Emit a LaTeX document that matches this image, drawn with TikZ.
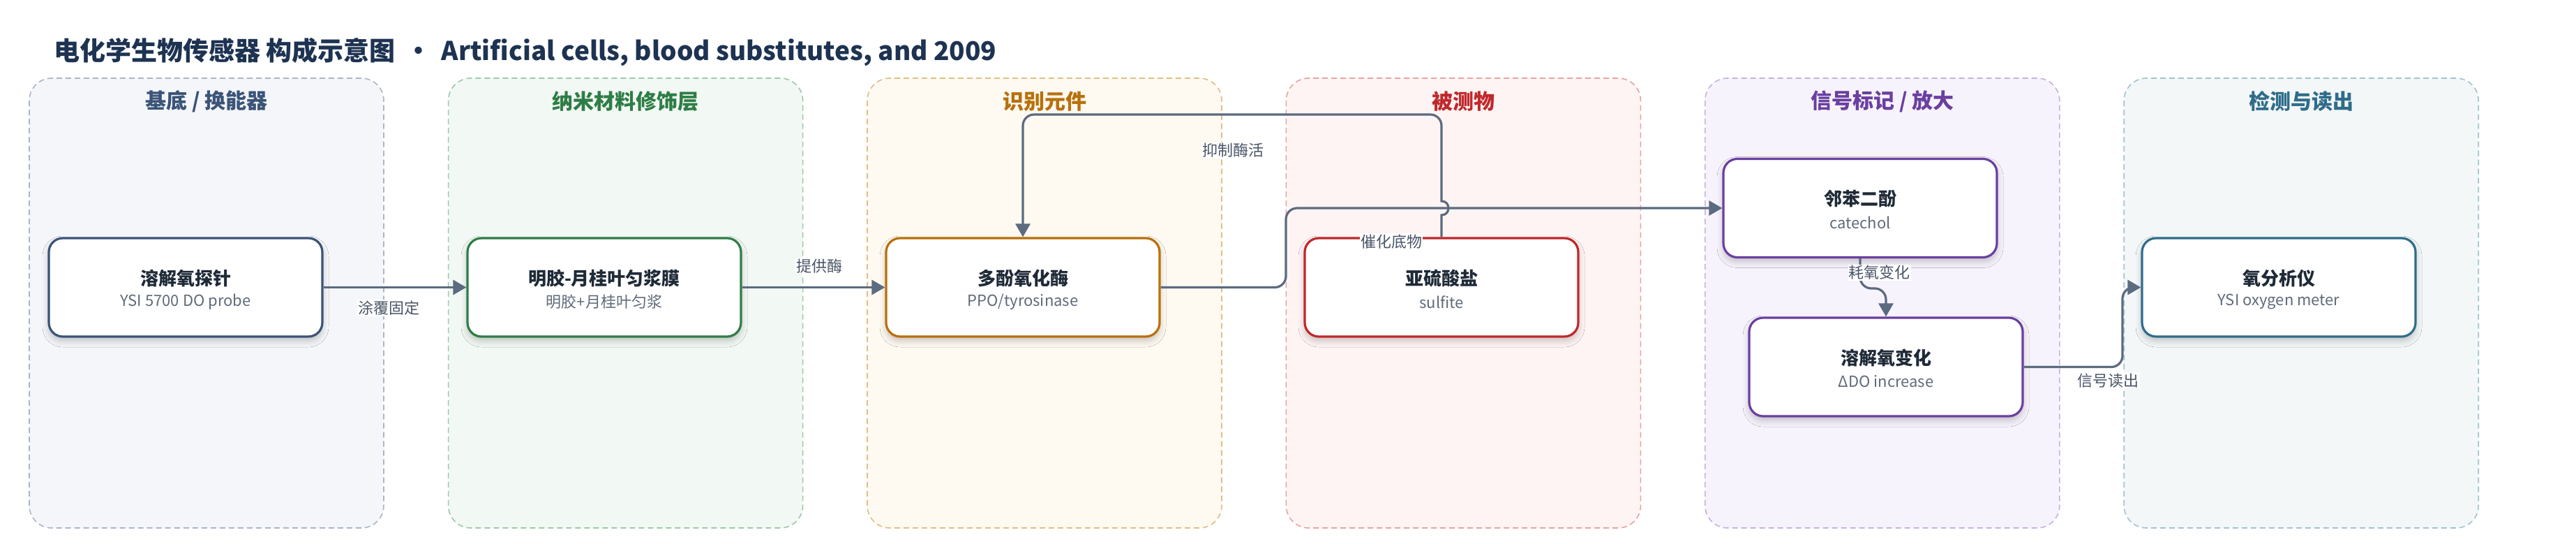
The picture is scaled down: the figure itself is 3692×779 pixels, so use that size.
\documentclass[tikz,border=0pt]{standalone}
\usepackage{fontspec}
\setmainfont{Noto Sans CJK SC}
\usetikzlibrary{arrows.meta,shadows.blur}
\definecolor{edgec}{HTML}{5B6B80}
\definecolor{lblc}{HTML}{4A5568}
\definecolor{ttlc}{HTML}{1F2A37}
\definecolor{subc}{HTML}{5F6B7A}
\definecolor{headc}{HTML}{1E3352}
% panel fills / borders / accents
\definecolor{fA}{HTML}{F4F6FA}\definecolor{bA}{HTML}{A9B6C8}\definecolor{cA}{HTML}{3B5478}
\definecolor{fB}{HTML}{F2F8F4}\definecolor{bB}{HTML}{9CCAA8}\definecolor{cB}{HTML}{2E7D46}
\definecolor{fC}{HTML}{FEF9F1}\definecolor{bC}{HTML}{E2BE85}\definecolor{cC}{HTML}{B8700A}
\definecolor{fD}{HTML}{FEF4F3}\definecolor{bD}{HTML}{E6A3A3}\definecolor{cD}{HTML}{C0282B}
\definecolor{fE}{HTML}{F7F3FC}\definecolor{bE}{HTML}{C6B1E2}\definecolor{cE}{HTML}{6A3FA0}
\definecolor{fF}{HTML}{F3F7F8}\definecolor{bF}{HTML}{A2C3CE}\definecolor{cF}{HTML}{2F6C8A}
\begin{document}
\begin{tikzpicture}[x=1pt,y=-1pt,
  panelbox/.style 2 args={draw=#1, fill=#2, dash pattern=on 8pt off 5pt, line width=1.6pt, rounded corners=32pt},
  panelhead/.style={font=\bfseries\fontsize{30}{36}\selectfont, text=#1, inner sep=0pt},
  nbox/.style={draw=#1, fill=white, line width=3.2pt, rounded corners=20pt, minimum width=392pt, minimum height=141pt, inner sep=0pt,
     blur shadow={shadow xshift=0pt, shadow yshift=-6pt, shadow blur radius=9pt, shadow opacity=22}},
  ntitle/.style={font=\bfseries\fontsize{26}{30}\selectfont, text=ttlc, inner sep=0pt},
  nsub/.style={font=\fontsize{22}{26}\selectfont, text=subc, inner sep=0pt},
  edge/.style={draw=edgec, line width=3.2pt, -{Triangle[length=19pt,width=21pt]}},
  elabel/.style={font=\fontsize{22}{26}\selectfont, text=lblc, fill=white, inner xsep=1pt, inner ysep=1.5pt}
]
\useasboundingbox (0,0) rectangle (3692,779);
\fill[white] (0,0) rectangle (3692,779);

% title
\node[anchor=west, inner sep=0pt, font=\bfseries\fontsize{37}{44}\selectfont, text=headc] (title) at (77,75)
  {电化学生物传感器 构成示意图 \,·\, Artificial cells, blood substitutes, and 2009};

% panels
\draw[panelbox={bA}{fA}] (42,112) rectangle (550,756);
\draw[panelbox={bB}{fB}] (642.6,112) rectangle (1150.6,756);
\draw[panelbox={bC}{fC}] (1243,112) rectangle (1751,756);
\draw[panelbox={bD}{fD}] (1843.4,112) rectangle (2351.4,756);
\draw[panelbox={bE}{fE}] (2443.8,112) rectangle (2951.8,756);
\draw[panelbox={bF}{fF}] (3044.2,112) rectangle (3552.2,756);

\node[panelhead=cA] (hA) at (296,145.5) {基底 / 换能器};
\node[panelhead=cB] (hB) at (896.6,145.5) {纳米材料修饰层};
\node[panelhead=cC] (hC) at (1497,145.5) {识别元件};
\node[panelhead=cD] (hD) at (2097.4,145.5) {被测物};
\node[panelhead=cE] (hE) at (2697.8,145.5) {信号标记 / 放大};
\node[panelhead=cF] (hF) at (3298.2,145.5) {检测与读出};

% nodes
\node[nbox=cA] (probe) at (266,411.5) {};
\node[ntitle] (probeT) at ([yshift=13pt]probe.center) {溶解氧探针};
\node[nsub] (probeS) at ([yshift=-21pt]probe.center) {YSI 5700 DO probe};

\node[nbox=cB] (gel) at (866,411.5) {};
\node[ntitle] (gelT) at ([yshift=13pt]gel.center) {明胶-月桂叶匀浆膜};
\node[nsub] (gelS) at ([yshift=-21pt]gel.center) {明胶+月桂叶匀浆};

\node[nbox=cC] (ppo) at (1466,411.5) {};
\node[ntitle] (ppoT) at ([yshift=13pt]ppo.center) {多酚氧化酶};
\node[nsub] (ppoS) at ([yshift=-21pt]ppo.center) {PPO/tyrosinase};

\node[nbox=cD] (sulfite) at (2066,411.5) {};
\node[ntitle] (sulT) at ([yshift=13pt]sulfite.center) {亚硫酸盐};
\node[nsub] (sulS) at ([yshift=-21pt]sulfite.center) {sulfite};

\node[nbox=cE] (catechol) at (2666,298) {};
\node[ntitle] (catT) at ([yshift=13pt]catechol.center) {邻苯二酚};
\node[nsub] (catS) at ([yshift=-21pt]catechol.center) {catechol};

\node[nbox=cE] (dochg) at (2703,525.5) {};
\node[ntitle] (doT) at ([yshift=13pt]dochg.center) {溶解氧变化};
\node[nsub] (doS) at ([yshift=-21pt]dochg.center) {ΔDO increase};

\node[nbox=cF] (meter) at (3266,411.5) {};
\node[ntitle] (meterT) at ([yshift=13pt]meter.center) {氧分析仪};
\node[nsub] (meterS) at ([yshift=-21pt]meter.center) {YSI oxygen meter};

% connectors
\draw[edge] (probe.east) -- (gel.west);
\draw[edge] (gel.east) -- (ppo.west);
\draw[edge, rounded corners=16pt] (ppo.east) -- (1843,411.5) -- (1843,298) -- (catechol.west);
\draw[edge] (sulfite.north) -- (2066,308) .. controls (2079.3,308) and (2079.3,288) .. (2066,288)
   [rounded corners=16pt] -- (2066,164) -- (1466,164) -- (ppo.north);
\draw[edge, rounded corners=16pt] (catechol.south) -- (2666,413) -- (2703,413) -- (dochg.north);
\draw[edge, rounded corners=16pt] (dochg.east) -- (3042,525.5) -- (3042,411.5) -- (meter.west);

% connector labels
\node[elabel] (l1) at (557,441) {涂覆固定};
\node[elabel] (l2) at (1174,381) {提供酶};
\node[elabel] (l3) at (1767,215.5) {抑制酶活};
\node[elabel] (l4) at (1994,346) {催化底物};
\node[elabel] (l5) at (2693.5,390.5) {耗氧变化};
\node[elabel] (l6) at (3021.5,544.7) {信号读出};
\end{tikzpicture}
\end{document}
